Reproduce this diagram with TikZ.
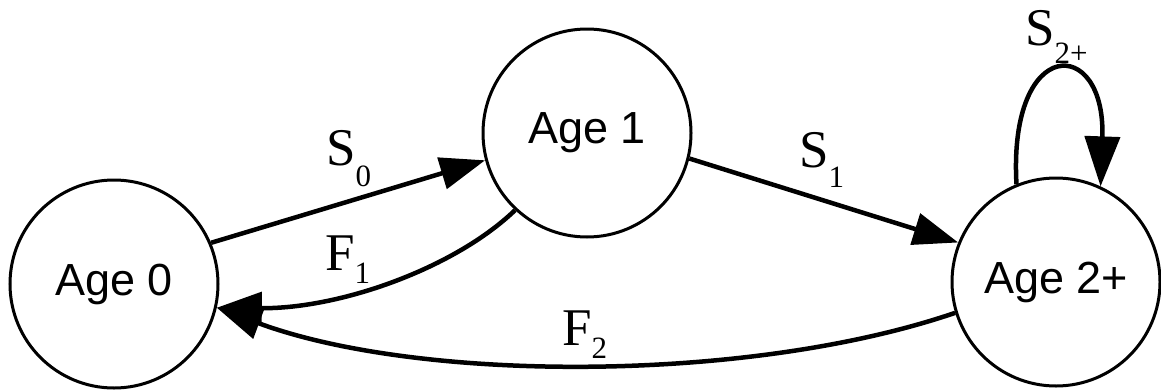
\documentclass[tikz,border=0pt]{standalone}
\usepackage{fontspec}
\setmainfont{Liberation Sans}
\newfontfamily\labserif{Liberation Serif}
\usetikzlibrary{arrows.meta}
\newcommand\edgelab[3]{{\labserif\fontsize{53}{53}\selectfont #1\raisebox{-#3pt}{\fontsize{31}{31}\selectfont #2}}}
\begin{document}
\begin{tikzpicture}[x=1pt,y=-1pt,
  state/.style={circle,draw,line width=3pt,minimum size=208pt,inner sep=0pt,font=\fontsize{45}{54}\selectfont},
  edge/.style={line width=4.5pt,-{Triangle[length=45pt,width=32pt]}},
  loopedge/.style={line width=4.5pt,-{Triangle[length=50pt,width=35pt]}},
  lab/.style={anchor=base west,inner sep=0pt}]
\useasboundingbox (0,0) rectangle (1161,391);
\node[state] (a0) at (114,284) {Age 0};
\node[state] (a1) at (587,133) {Age 1};
\node[state] (a2) at (1056,282) {Age 2+};
\draw[edge] (a0.23) -- (a1.195);
\draw[edge] (a1.-14) -- (a2.158);
\draw[edge] (a1.227) .. controls (455,268) and (340,309) .. (a0.-13);
\draw[edge] (a2.-163) .. controls (750,383) and (420,383) .. (a0.-13);
\draw[loopedge] (a2.112) .. controls (1008,35) and (1106,35) .. (a2.65);
\node[lab] (ls0) at (326,165) {\edgelab{S}{0}{21}};
\node[lab] (lf1) at (325,270) {\edgelab{F}{1}{13}};
\node[lab] (ls1) at (799,167) {\edgelab{S}{1}{20}};
\node[lab] (lf2) at (562,345) {\edgelab{F}{2}{13}};
\node[lab] (ls2) at (1025,45) {\edgelab{S}{2+}{18}};
\end{tikzpicture}
\end{document}
